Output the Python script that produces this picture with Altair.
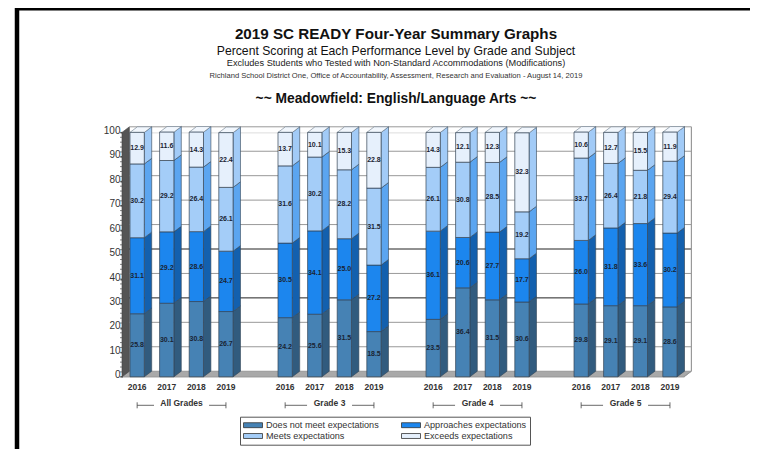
import altair as alt
import pandas as pd

groups = ["All Grades", "Grade 3", "Grade 4", "Grade 5"]
years = ["2016", "2017", "2018", "2019"]
levels = ["Does not meet expectations", "Approaches expectations", "Meets expectations", "Exceeds expectations"]
front_colors = ["#4682B4", "#1C86EE", "#A4CDF8", "#E6F0FC"]
side_colors = ["#315B7E", "#1360AE", "#5BA5F0", "#A2CBF7"]

does_not_meet = [25.8, 30.1, 30.8, 26.7, 24.2, 25.6, 31.5, 18.5, 23.5, 36.4, 31.5, 30.6, 29.8, 29.1, 29.1, 28.6]
approaches = [31.1, 29.2, 28.6, 24.7, 30.5, 34.1, 25.0, 27.2, 36.1, 20.6, 27.7, 17.7, 26.0, 31.8, 33.6, 30.2]
meets = [30.2, 29.2, 26.4, 26.1, 31.6, 30.2, 28.2, 31.5, 26.1, 30.8, 28.5, 19.2, 33.7, 26.4, 21.8, 29.4]
exceeds = [12.9, 11.6, 14.3, 22.4, 13.7, 10.1, 15.3, 22.8, 14.3, 12.1, 12.3, 32.3, 10.6, 12.7, 15.5, 11.9]

series = [does_not_meet, approaches, meets, exceeds]
BW, DX, DY = 0.483, 0.25, 2.29
X_DOM = [-0.27, 18.716]
W, H = 562, 244.4
FONT = "Liberation Sans"

rows = []
for n in range(16):
    g, yi = n // 4, n % 4
    s = g * 5 + yi
    base = 0
    for k, lv in enumerate(levels):
        v = series[k][n]
        rows.append(dict(id=f"{n}-{k}", lv=lv, val=v, x0=s, x1=s + BW, y0=base, y1=base + v,
                         mid=base + v / 2, c=s + BW / 2, side=side_colors[k],
                         top=front_colors[k], label=f"{v:.1f}"))
        base += v
bars = pd.DataFrame(rows)

xscale = alt.Scale(domain=X_DOM, nice=False, zero=False)
yscale = alt.Scale(domain=[0, 100], nice=False, zero=True)

side_rows, top_rows = [], []
for r in rows:
    side_rows.append(dict(id=r["id"], x=r["x1"], y=r["y0"], y2=r["y1"], f=r["side"]))
    side_rows.append(dict(id=r["id"], x=r["x1"] + DX, y=r["y0"] + DY, y2=r["y1"] + DY, f=r["side"]))
for n in range(16):
    r = rows[n * 4 + 3]
    top_rows.append(dict(id=r["id"], y=r["y1"], x=r["x0"], x2=r["x1"]))
    top_rows.append(dict(id=r["id"], y=r["y1"] + DY, x=r["x0"] + DX, x2=r["x1"] + DX))

floor = pd.DataFrame([dict(y=0, x=X_DOM[0], x2=X_DOM[1]),
                      dict(y=DY, x=X_DOM[0] + DX, x2=X_DOM[1] + DX)])
wall = pd.DataFrame([dict(x=X_DOM[0], y=0, y2=100), dict(x=X_DOM[0] + DX, y=DY, y2=100 + DY)])

grid_vals = list(range(10, 101, 10))
grid = pd.DataFrame([dict(v=v, y=v + DY, x=X_DOM[0] + DX, x2=X_DOM[1] + DX,
                          col="#222222" if v in (30, 50) else "#999999") for v in grid_vals])
backright = pd.DataFrame([dict(x=X_DOM[1] + DX, y=DY, y2=100 + DY)])
sideright = pd.DataFrame([dict(x=X_DOM[1], y=0), dict(x=X_DOM[1] + DX, y=DY)])

y_axis = alt.Axis(
    values=list(range(0, 101, 10)), title=None, grid=False, labelFont=FONT, labelFontSize=10,
    labelColor="#333333", tickColor="#222222", tickSize=2, domainColor="#222222", labelPadding=0,
    labelOffset=-2)
x_f = alt.X("x:Q", scale=xscale, axis=None)
y_f = alt.Y("y:Q", scale=yscale, axis=y_axis)

floor_l = alt.Chart(floor).mark_area(orient="horizontal", color="#A9A9A9", stroke="#777777", strokeWidth=0.6).encode(
    x=x_f, x2="x2:Q", y=y_f)
wall_l = alt.Chart(wall).mark_area(orient="vertical", color="#555555", stroke="#444444", strokeWidth=0.6).encode(
    x=x_f, y=y_f, y2="y2:Q")
grid_l = alt.Chart(grid).mark_rule(strokeWidth=1).encode(
    x=x_f, x2="x2:Q", y=y_f, color=alt.Color("col:N", scale=None))
back_r = alt.Chart(backright).mark_rule(color="#999999", strokeWidth=1.2).encode(x=x_f, y=y_f, y2="y2:Q")
side_r = alt.Chart(sideright).mark_line(color="#999999", strokeWidth=1).encode(x=x_f, y=y_f)

side_l = alt.Chart(pd.DataFrame(side_rows)).mark_area(orient="vertical", stroke="#334455", strokeWidth=0.6).encode(
    x=x_f, y=y_f, y2="y2:Q", detail="id:N", fill=alt.Fill("f:N", scale=None))
top_l = alt.Chart(pd.DataFrame(top_rows)).mark_area(orient="horizontal", fill="#F2F7FD", stroke="#667788", strokeWidth=0.6).encode(
    x=x_f, x2="x2:Q", y=y_f, detail="id:N")

legend = alt.Legend(
    title=None, orient="none", legendX=118, legendY=284.3, columns=2, padding=3, direction="horizontal",
    strokeColor="#555555", fillColor="#FFFFFF", symbolType="M-1,-0.26H1V0.26H-1Z", symbolSize=361,
    clipHeight=10.6, labelFont=FONT, labelFontSize=9.1, labelColor="#333333", labelOffset=3,
    columnPadding=22, rowPadding=0, symbolStrokeColor="#333333", symbolStrokeWidth=0.8,
    symbolOpacity=1, gridAlign="each",
)
front = alt.Chart(bars).mark_bar(stroke="#334455", strokeWidth=0.7).encode(
    x=alt.X("x0:Q", scale=xscale, axis=None),
    x2="x1:Q",
    y=alt.Y("y0:Q", scale=yscale, axis=y_axis),
    y2="y1:Q",
    color=alt.Color("lv:N", scale=alt.Scale(domain=levels, range=front_colors), legend=legend, sort=levels),
)
vals = alt.Chart(bars).mark_text(font=FONT, fontSize=7, fontWeight="bold", color="#1a2433").encode(
    x=alt.X("c:Q", scale=xscale, axis=None),
    y=alt.Y("mid:Q", scale=yscale, axis=y_axis), text="label:N")

minor = alt.Chart(pd.DataFrame({"y": list(range(0, 101, 2))})).mark_rule(color="#333333", strokeWidth=0.6).encode(
    x=alt.value(-2), x2=alt.value(0), y=y_f)

yl = pd.DataFrame([dict(x=g * 5 + i + BW / 2, t=years[i]) for g in range(4) for i in range(4)])
year_l = alt.Chart(yl).mark_text(font=FONT, fontSize=8.5, fontWeight="bold", color="#333333").encode(
    x=x_f, y=alt.value(H + 10), text="t:N")
gl = pd.DataFrame([dict(x=g * 5 + 1.5 + BW / 2, t=groups[g]) for g in range(4)])
group_l = alt.Chart(gl).mark_text(font=FONT, fontSize=8.5, fontWeight="bold", color="#333333").encode(
    x=x_f, y=alt.value(H + 26.5), text="t:N")
seg, tick = [], []
for g in range(4):
    c = g * 5 + 1.5 + BW / 2
    half = 0.93 if g == 0 else 0.76
    seg += [dict(x=c - 1.5, x2=c - half), dict(x=c + half, x2=c + 1.5)]
    tick += [dict(x=c - 1.5), dict(x=c + 1.5)]
seg_l = alt.Chart(pd.DataFrame(seg)).mark_rule(color="#444444", strokeWidth=0.8).encode(
    x=x_f, x2="x2:Q", y=alt.value(H + 28.5))
tick_l = alt.Chart(pd.DataFrame(tick)).mark_rule(color="#444444", strokeWidth=0.8).encode(
    x=x_f, y=alt.value(H + 25.5), y2=alt.value(H + 31.5))

heads = [
    ("2019 SC READY Four-Year Summary Graphs", 15.2, "bold", 34, "#111111"),
    ("Percent Scoring at Each Performance Level by Grade and Subject", 12.2, "normal", 51.5, "#111111"),
    ("Excludes Students who Tested with Non-Standard Accommodations (Modifications)", 9.2, "normal", 63, "#222222"),
    ("Richland School District One, Office of Accountability, Assessment, Research and Evaluation - August 14, 2019", 7.6, "normal", 76, "#333333"),
    ("~~ Meadowfield: English/Language Arts ~~", 13.8, "bold", 99, "#111111"),
]
head_l = []
for t, fs, fw, py, col in heads:
    head_l.append(alt.Chart(pd.DataFrame({"t": [t]})).mark_text(
        font=FONT, fontSize=fs, fontWeight=fw, color=col, baseline="middle").encode(
        x=alt.value(396 - 122), y=alt.value(py - 132.4), text="t:N"))

frame_top = alt.Chart(pd.DataFrame({"a": [0]})).mark_rule(color="#000000", strokeWidth=3).encode(
    x=alt.value(15 - 122), x2=alt.value(750 - 122), y=alt.value(9 - 132.4))
frame_left = alt.Chart(pd.DataFrame({"a": [0]})).mark_rule(color="#000000", strokeWidth=4.5).encode(
    x=alt.value(17 - 122), y=alt.value(8 - 132.4), y2=alt.value(449 - 132.4))

chart = alt.layer(
    floor_l, wall_l, grid_l, back_r, side_r, frame_top, frame_left, *head_l,
    side_l, top_l, front, minor, vals, year_l, group_l, seg_l, tick_l
).resolve_scale(color="independent").properties(
    width=W, height=H,
    autosize=alt.AutoSizeParams(type="none"),
    padding={"left": 114, "top": 124.4, "right": 66, "bottom": 72.2},
).configure_view(stroke=None).configure(background="#FFFFFF")

chart.save("out.html", embed_options={"renderer": "svg", "actions": False})
